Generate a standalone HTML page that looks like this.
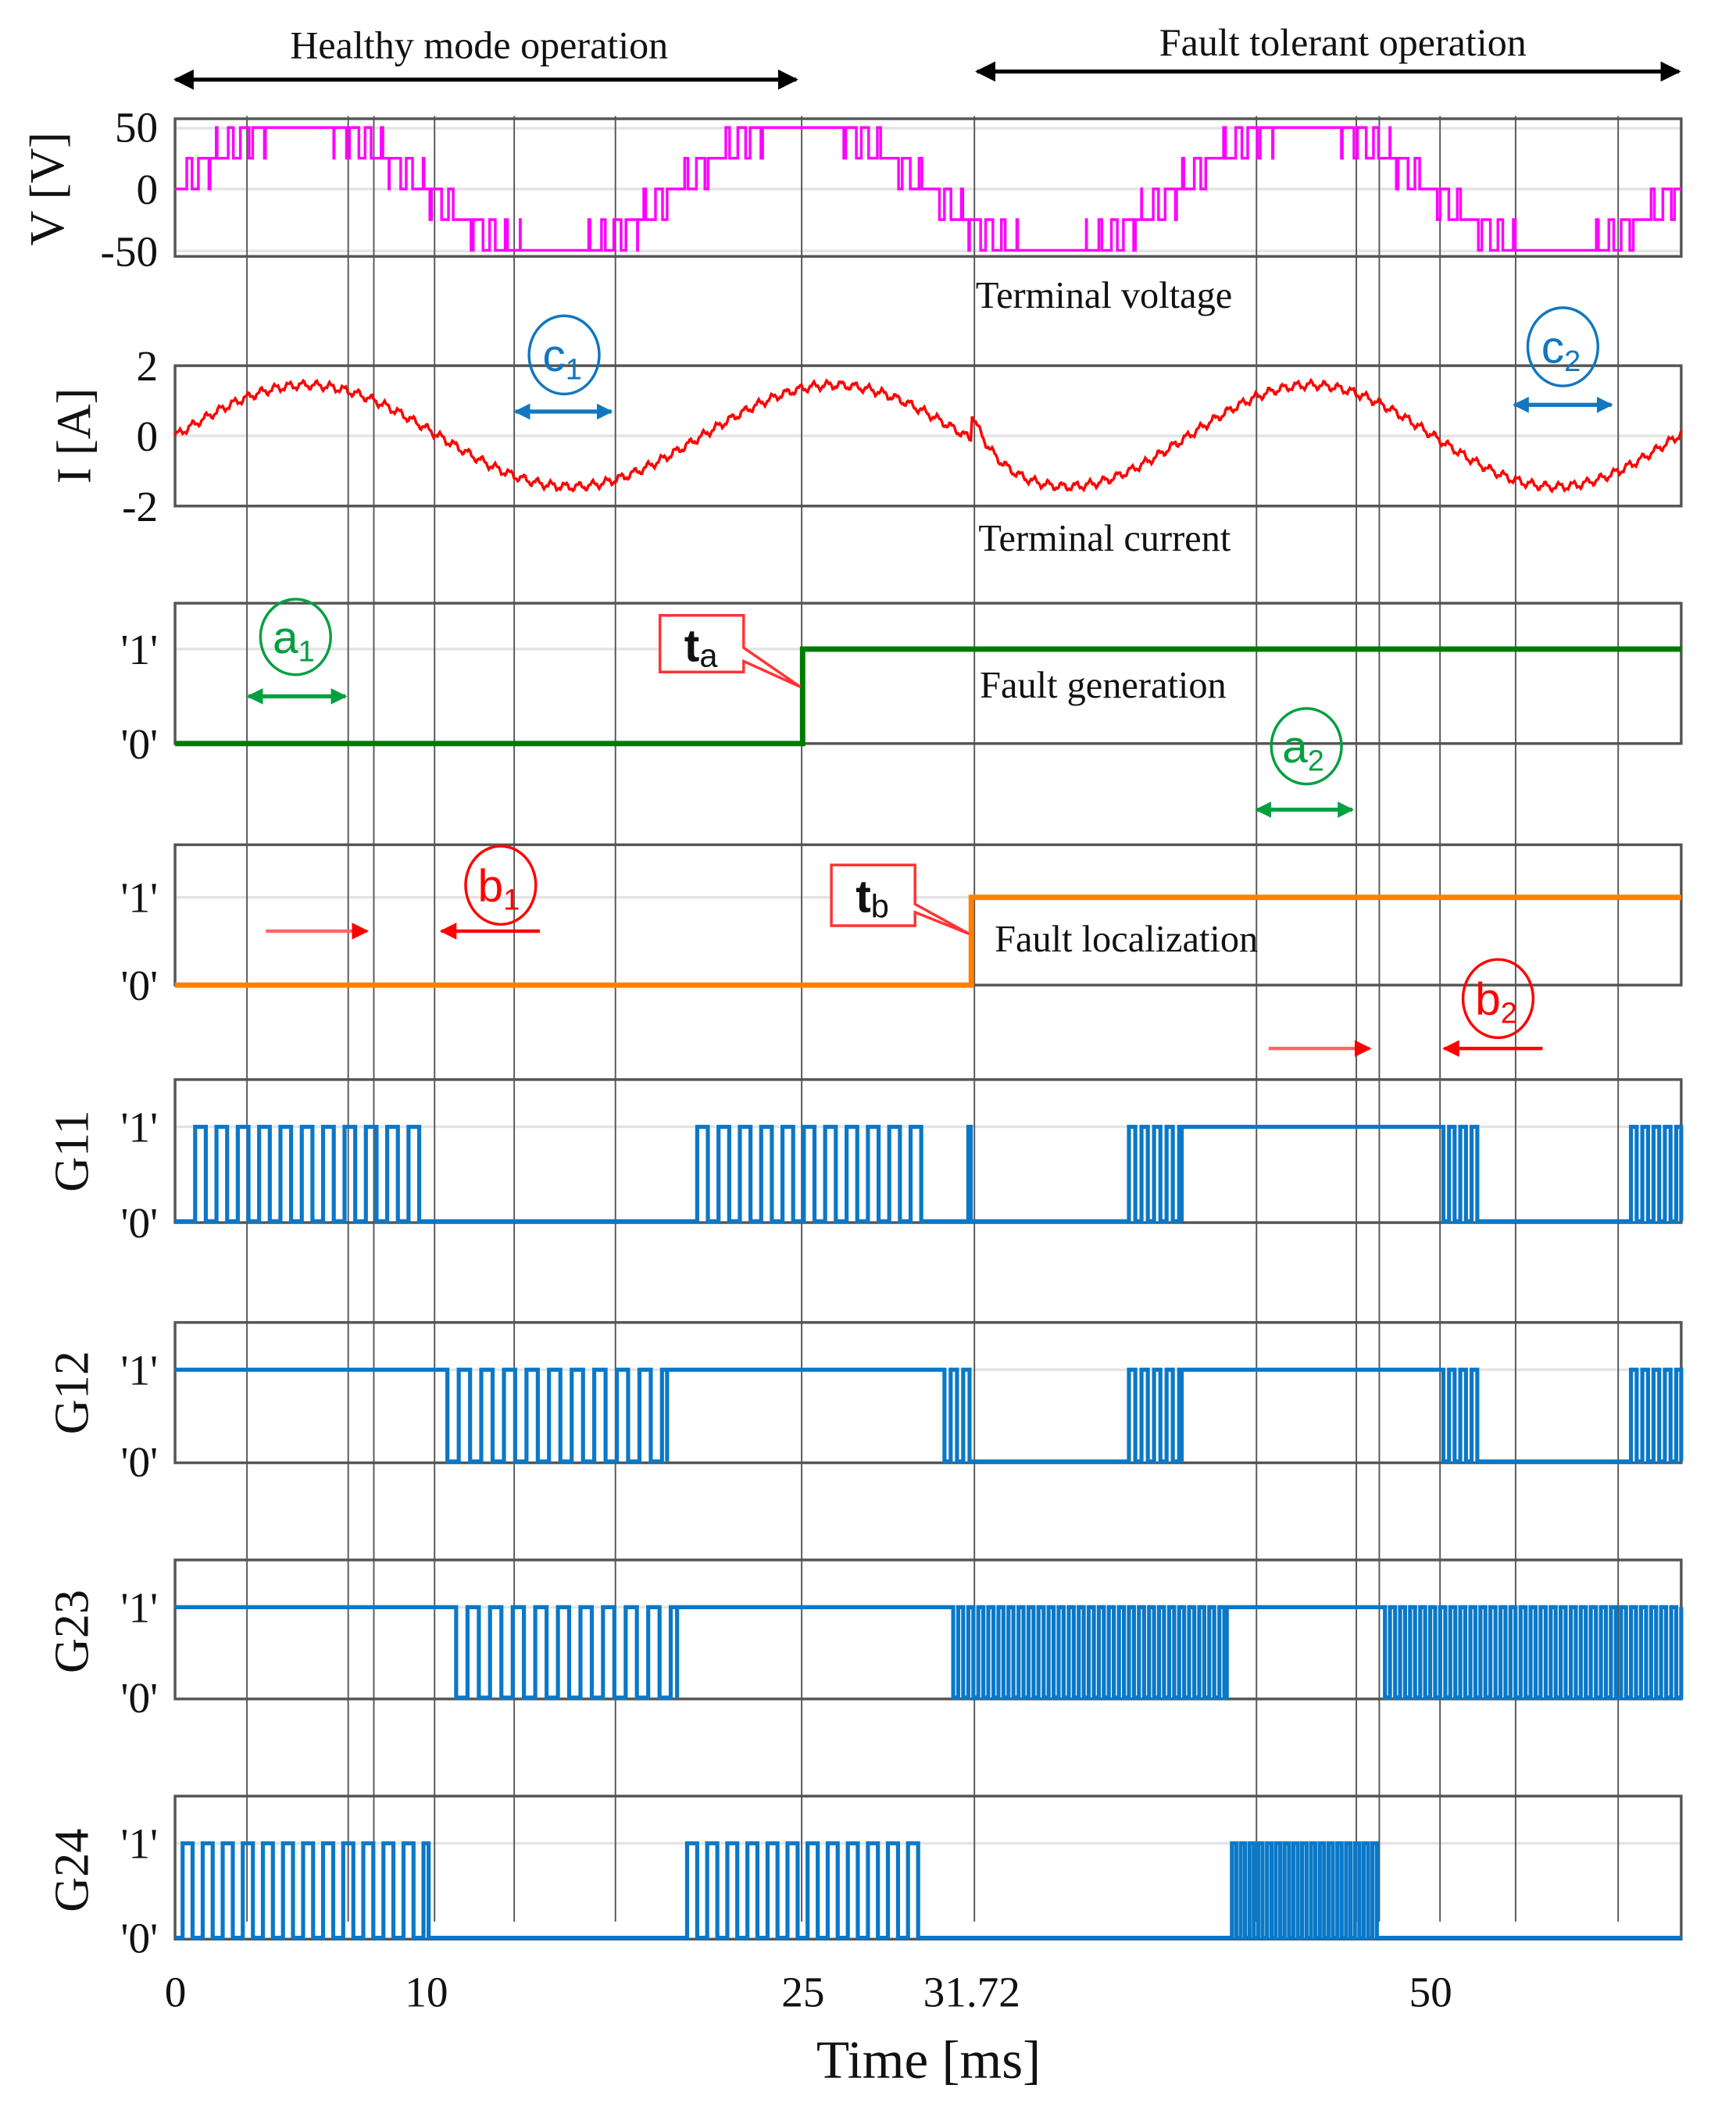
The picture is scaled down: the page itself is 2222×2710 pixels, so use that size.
<!DOCTYPE html>
<html><head><meta charset="utf-8"><style>
html,body{margin:0;padding:0;background:#fff}
svg{display:block}
text{font-family:"Liberation Serif",serif;fill:#111}
</style></head><body>
<svg id="s" width="2222" height="2710" viewBox="0 0 1286.3 1568.8" preserveAspectRatio="none" xmlns="http://www.w3.org/2000/svg">
<defs>
<marker id="ak" viewBox="0 0 10 10" refX="9" refY="5" markerWidth="5" markerHeight="5" orient="auto-start-reverse"><path d="M0,0L10,5L0,10z" fill="#000"/></marker>
<marker id="ag" viewBox="0 0 10 10" refX="9" refY="5" markerWidth="4" markerHeight="4" orient="auto-start-reverse"><path d="M0,0L10,5L0,10z" fill="#00a040"/></marker>
<marker id="ab" viewBox="0 0 10 10" refX="9" refY="5" markerWidth="4" markerHeight="4" orient="auto-start-reverse"><path d="M0,0L10,5L0,10z" fill="#1177c0"/></marker>
<marker id="ar" viewBox="0 0 10 10" refX="9" refY="5" markerWidth="5" markerHeight="5" orient="auto"><path d="M0,0L10,5L0,10z" fill="#f00"/></marker>
</defs>
<g id="frames"></g>
<g id="vlines"></g>
<g id="sig"></g>
<text x="355" y="43" font-size="29" text-anchor="middle">Healthy mode operation</text>
<line x1="130" y1="59" x2="590" y2="59" stroke="#000" stroke-width="3" marker-start="url(#ak)" marker-end="url(#ak)"/>
<text x="995" y="41" font-size="29" text-anchor="middle">Fault tolerant operation</text>
<line x1="724" y1="53" x2="1244" y2="53" stroke="#000" stroke-width="3" marker-start="url(#ak)" marker-end="url(#ak)"/>
<text x="723" y="228" font-size="28">Terminal  voltage</text>
<text x="725" y="408" font-size="28">Terminal  current</text>
<text x="726" y="517" font-size="28">Fault generation</text>
<text x="737" y="705" font-size="28">Fault localization</text>
<text font-size="36" text-anchor="middle" transform="translate(47,140) rotate(-90)">V [V]</text>
<text font-size="36" text-anchor="middle" transform="translate(67,323) rotate(-90)">I [A]</text>
<text font-size="36" text-anchor="middle" transform="translate(65,853) rotate(-90)">G11</text>
<text font-size="36" text-anchor="middle" transform="translate(65,1032) rotate(-90)">G12</text>
<text font-size="36" text-anchor="middle" transform="translate(65,1209) rotate(-90)">G23</text>
<text font-size="36" text-anchor="middle" transform="translate(65,1386) rotate(-90)">G24</text>
<g font-size="32" text-anchor="end">
<text x="117" y="105">50</text><text x="117" y="151">0</text><text x="117" y="197">-50</text>
<text x="117" y="282">2</text><text x="117" y="334">0</text><text x="117" y="386">-2</text>
<text x="117" y="492">'1'</text><text x="117" y="562">'0'</text>
<text x="117" y="676">'1'</text><text x="117" y="741">'0'</text>
<text x="117" y="846">'1'</text><text x="117" y="917">'0'</text>
<text x="117" y="1026">'1'</text><text x="117" y="1094">'0'</text>
<text x="117" y="1202">'1'</text><text x="117" y="1269">'0'</text>
<text x="117" y="1377">'1'</text><text x="117" y="1447">'0'</text>
</g>
<g font-size="32" text-anchor="middle">
<text x="130" y="1487">0</text><text x="316" y="1487">10</text><text x="595" y="1487">25</text><text x="720" y="1487">31.72</text><text x="1060" y="1487">50</text>
</g>
<text x="688" y="1540" font-size="40" text-anchor="middle">Time [ms]</text>
<g fill="none" stroke-width="2">
<ellipse cx="418" cy="263" rx="26" ry="29" stroke="#1177c0"/>
<line x1="382" y1="305" x2="453" y2="305" stroke="#1177c0" stroke-width="3" marker-start="url(#ab)" marker-end="url(#ab)"/>
<ellipse cx="1158" cy="257" rx="26" ry="29" stroke="#1177c0"/>
<line x1="1122" y1="300" x2="1194" y2="300" stroke="#1177c0" stroke-width="3" marker-start="url(#ab)" marker-end="url(#ab)"/>
<ellipse cx="219" cy="472" rx="26" ry="28" stroke="#00a040"/>
<line x1="184" y1="516" x2="256" y2="516" stroke="#00a040" stroke-width="3" marker-start="url(#ag)" marker-end="url(#ag)"/>
<ellipse cx="968" cy="553" rx="26" ry="28" stroke="#00a040"/>
<line x1="931" y1="600" x2="1002" y2="600" stroke="#00a040" stroke-width="3" marker-start="url(#ag)" marker-end="url(#ag)"/>
<ellipse cx="371" cy="656" rx="26" ry="29" stroke="#f00"/>
<line x1="197" y1="690" x2="272" y2="690" stroke="#f66" stroke-width="2.5" marker-end="url(#ar)"/>
<line x1="400" y1="690" x2="327" y2="690" stroke="#f00" stroke-width="2.5" marker-end="url(#ar)"/>
<ellipse cx="1110" cy="740" rx="26" ry="29" stroke="#f00"/>
<line x1="940" y1="777" x2="1015" y2="777" stroke="#f66" stroke-width="2.5" marker-end="url(#ar)"/>
<line x1="1143" y1="777" x2="1070" y2="777" stroke="#f00" stroke-width="2.5" marker-end="url(#ar)"/>
<path d="M489,456H551V480L593,509L551,490V498H489Z" stroke="#f33" fill="#fff"/>
<path d="M616,641H678V670L718,692L678,676V686H616Z" stroke="#f33" fill="#fff"/>
</g>
<g>
<text x="402" y="275" font-size="34" style="fill:#1177c0;font-family:'Liberation Sans',sans-serif">c<tspan font-size="22" dy="6">1</tspan></text>
<text x="1142" y="269" font-size="34" style="fill:#1177c0;font-family:'Liberation Sans',sans-serif">c<tspan font-size="22" dy="6">2</tspan></text>
<text x="202" y="484" font-size="34" style="fill:#00a040;font-family:'Liberation Sans',sans-serif">a<tspan font-size="22" dy="6">1</tspan></text>
<text x="950" y="565" font-size="34" style="fill:#00a040;font-family:'Liberation Sans',sans-serif">a<tspan font-size="22" dy="6">2</tspan></text>
<text x="354" y="668" font-size="34" style="fill:#f00;font-family:'Liberation Sans',sans-serif">b<tspan font-size="22" dy="6">1</tspan></text>
<text x="1093" y="752" font-size="34" style="fill:#f00;font-family:'Liberation Sans',sans-serif">b<tspan font-size="22" dy="6">2</tspan></text>
<text x="507" y="490" font-size="34" style="font-family:'Liberation Sans',sans-serif;font-weight:bold">t<tspan font-size="24" dy="4" style="font-weight:normal">a</tspan></text>
<text x="634" y="676" font-size="34" style="font-family:'Liberation Sans',sans-serif;font-weight:bold">t<tspan font-size="24" dy="4" style="font-weight:normal">b</tspan></text>
</g>
</svg>
<script>
(function(){
var NS="http://www.w3.org/2000/svg";
function el(p,n,a){var e=document.createElementNS(NS,n);for(var k in a)e.setAttribute(k,a[k]);p.appendChild(e);return e;}
function X(t){return 129.7+18.6*t;}
var L=129.7,R=1245.7;
var fr=document.getElementById('frames'),vl=document.getElementById('vlines'),sg=document.getElementById('sig');
var panels=[[88,190,[95,140,186]],[271,375,[271,323,375]],[447,551,[481]],[626,730,[665]],[800,906,[835]],[980,1084,[1015]],[1156,1259,[1191]],[1331,1437,[1366]]];
panels.forEach(function(p){
 p[2].forEach(function(y){el(fr,'line',{x1:L,x2:R,y1:y,y2:y,stroke:'#e4e4e4','stroke-width':2});});
 el(fr,'rect',{x:L,y:p[0],width:R-L,height:p[1]-p[0],fill:'none',stroke:'#555','stroke-width':2});
});
[183,258,277,322,381,456,594,722,931,1005,1022,1067,1123,1199].forEach(function(x){
 el(vl,'line',{x1:x,x2:x,y1:86,y2:1424,stroke:'#555','stroke-width':1.1});
});
function tri(t,p){var f=(t/p)%1;return f<0.5?2*f:2-2*f;}
var d='',prev=null;
for(var t=0;t<=60;t+=0.01){
 var r=2.15*Math.sin(2*Math.PI*t/20);var n=Math.floor(r),f=r-n;
 var lv=n+(f>tri(t,0.55)?1:0);lv=Math.max(-2,Math.min(2,lv));
 var y=140-lv*22.75,x=X(t);
 if(prev===null)d+='M'+x.toFixed(1)+','+y;
 else if(lv!==prev)d+='L'+x.toFixed(1)+','+(140-prev*22.75)+'L'+x.toFixed(1)+','+y;
 prev=lv;
}
d+='L'+R+','+(140-prev*22.75);
el(sg,'path',{d:d,fill:'none',stroke:'#ff00ff','stroke-width':2});
d='';
for(var t=0;t<=60;t+=0.05){
 var i;
 if(t<31.72) i=1.45*Math.sin(2*Math.PI*t/21);
 else {var b=-1.45*Math.cos(2*Math.PI*(t-35.5)/19.5);var a=1.45*Math.sin(2*Math.PI*31.72/21)+0.8;var k=Math.exp(-(t-31.72)/0.6);i=b+(a-b)*k;}
 i+=0.1*Math.sin(2*Math.PI*t/0.55)+0.04*Math.sin(t*37.1);
 d+=(t===0?'M':'L')+X(t).toFixed(1)+','+(323-26*i).toFixed(1);
}
el(sg,'path',{d:d,fill:'none',stroke:'#f00','stroke-width':2});
el(sg,'path',{d:'M'+L+',551H'+X(25)+'V481H'+R,fill:'none',stroke:'#007a00','stroke-width':4});
el(sg,'path',{d:'M'+L+',730H'+X(31.72)+'V665H'+R,fill:'none',stroke:'#ff8000','stroke-width':4});
function gate(y1,y0,segs){
 var pts=[];
 segs.forEach(function(s){
  var a=s[0],b=s[1],m=s[2];
  if(m===0||m===1){pts.push([a,m]);pts.push([b,m]);}
  else{var per=m,dt=s[3]||0.5;for(var t=a;t<b;t+=per){var h=Math.min(t+per*dt,b);pts.push([t,1]);pts.push([h,1]);pts.push([h,0]);pts.push([Math.min(t+per,b),0]);}}
 });
 var d='',py=null;
 pts.forEach(function(p){var x=X(p[0]).toFixed(1),y=p[1]?y1:y0;if(py===null)d='M'+x+','+y;else{if(y!==py)d+='L'+x+','+py+'L'+x+','+y;else d+='L'+x+','+y;}py=y;});
 el(sg,'path',{d:d,fill:'none',stroke:'#0a78c8','stroke-width':3});
}
gate(835,905,[[0,0.8,0],[0.8,10.1,0.85,0.5],[10.1,20.8,0],[20.8,30.1,0.85,0.5],[30.1,31.6,0],[31.6,31.8,0.2,0.5],[31.8,38,0],[38,40.1,0.5,0.5],[40.1,50.3,1],[50.3,51.9,0.45,0.5],[51.9,58,0],[58,60,0.45,0.5]]);
gate(1015,1083,[[0,10.4,1],[10.4,19.6,0.9,0.5],[19.6,30.4,1],[30.4,31.72,0.5,0.5],[31.72,38,0],[38,40.1,0.5,0.5],[40.1,50.3,1],[50.3,51.9,0.45,0.5],[51.9,58,0],[58,60,0.45,0.5]]);
gate(1191,1258,[[0,10.75,1],[10.75,20,0.9,0.5],[20,30.8,1],[30.8,41.9,0.4,0.5],[41.9,48,1],[48,60,0.4,0.5]]);
gate(1366,1436,[[0,0.3,0],[0.3,10.1,0.8,0.5],[10.1,20.4,0],[20.4,29.6,0.8,0.5],[29.6,42.1,0],[42.1,48,0.35,0.5],[48,60,0]]);
})();
</script>
</body></html>
